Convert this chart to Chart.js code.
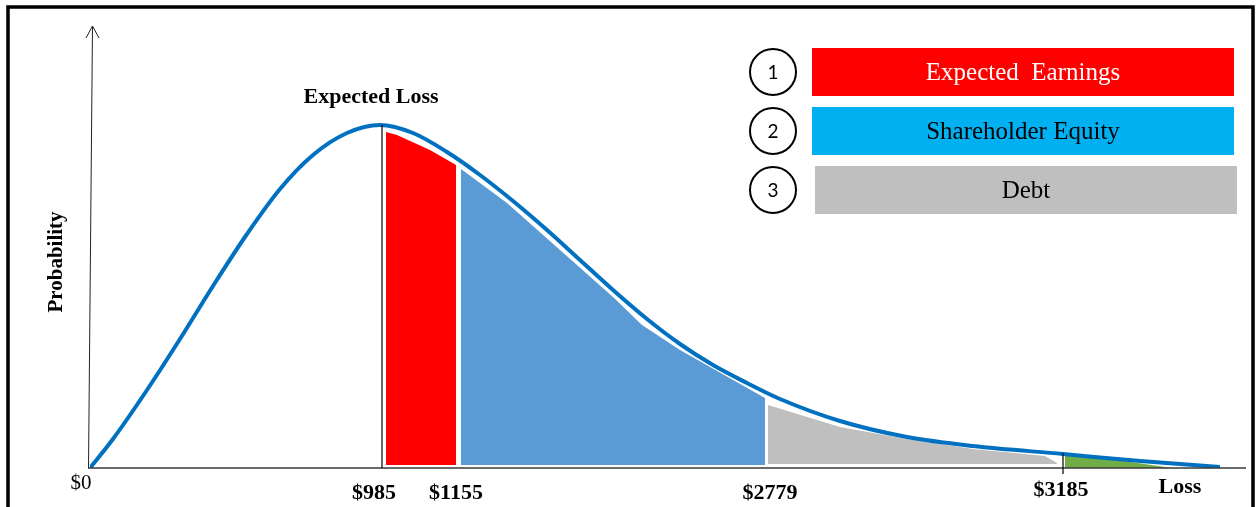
<!DOCTYPE html>
<html>
<head>
<meta charset="utf-8">
<script src="https://cdn.jsdelivr.net/npm/chart.js@4.4.1/dist/chart.umd.min.js"></script>
<style>
  html, body { margin: 0; padding: 0; background: #ffffff; }
  #wrap { width: 1259px; height: 507px; position: relative; }
</style>
</head>
<body>
<div id="wrap"><canvas id="c" width="1259" height="507"></canvas></div>
<script>
// ---- Data (schematic units) ----
const curveX = [0, 23, 57, 90, 123, 157, 190, 223, 257, 290, 323, 357, 390, 423, 457, 490, 523, 557, 590, 623, 657, 690, 750, 817, 883, 973, 1050, 1130];
const curveY = [0, 29, 78, 129, 182, 234, 279, 313, 335, 343, 335, 316, 293, 267, 238, 208, 178, 149, 124, 103, 85, 69, 47, 31, 22, 14, 7, 1];

const earningsX = [296, 307, 340, 366];
const earningsY = [336, 333, 318, 303];

const equityX = [371, 417, 470, 523, 552, 590, 675];
const equityY = [299, 265, 218, 171, 143, 118, 70];

const debtX = [678, 750, 817, 883, 955, 967];
const debtY = [63, 41, 29, 19, 12, 5];

const tailX = [975, 1020, 1082];
const tailY = [14, 9, 0];

const expectedLossX = 292;
const tickValues = [0, 292, 370, 676, 973];
const tickLabels = ['$0', '$985', '$1155', '$2779', '$3185'];
const axisTitleX = 'Loss';
const axisTitleY = 'Probability';
const peakTitle = 'Expected Loss';

const legendNumbers = ['1', '2', '3'];
const legendLabels = ['Expected  Earnings', 'Shareholder Equity', 'Debt'];
const legendFill = ['#FF0000', '#00B0F0', '#BFBFBF'];
const legendText = ['#FFFFFF', '#000000', '#000000'];

const pts = (xs, ys) => xs.map((x, i) => ({ x: x, y: ys[i] }));

const SERIF = '"Liberation Serif", "Times New Roman", serif';

const decor = {
  id: 'decor',
  beforeDraw(chart) {
    const ctx = chart.ctx;
    ctx.save();
    ctx.fillStyle = '#ffffff';
    ctx.fillRect(0, 0, chart.width, chart.height);
    ctx.restore();
  },
  afterDatasetsDraw(chart) {
    const ctx = chart.ctx;
    const xs = chart.scales.x, ys = chart.scales.y;
    const y0 = ys.getPixelForValue(0);
    const xLeft = xs.getPixelForValue(0);
    const yTop = ys.getPixelForValue(ys.max);
    ctx.save();

    // frame
    ctx.strokeStyle = '#000';
    ctx.lineWidth = 3.5;
    ctx.strokeRect(8, 7, 1245, 540);

    // x axis
    ctx.strokeStyle = '#3a3a3a';
    ctx.lineWidth = 1.5;
    ctx.beginPath();
    ctx.moveTo(xLeft - 2, y0);
    ctx.lineTo(xs.right, y0);
    ctx.stroke();

    // y axis with open arrow
    ctx.strokeStyle = '#222';
    ctx.lineWidth = 1;
    ctx.beginPath();
    ctx.moveTo(xLeft - 1.5, y0);
    ctx.lineTo(xLeft + 2.5, yTop - 1);
    ctx.stroke();
    ctx.beginPath();
    ctx.moveTo(xLeft - 4, yTop + 11);
    ctx.lineTo(xLeft + 2.5, yTop - 1);
    ctx.lineTo(xLeft + 9, yTop + 11);
    ctx.stroke();

    // expected loss vertical line
    const xe = xs.getPixelForValue(expectedLossX);
    ctx.strokeStyle = '#000';
    ctx.lineWidth = 1.2;
    ctx.beginPath();
    ctx.moveTo(xe, ys.getPixelForValue(343));
    ctx.lineTo(xe, y0);
    ctx.stroke();

    // tick mark at last boundary
    const xt = xs.getPixelForValue(tickValues[4]);
    ctx.beginPath();
    ctx.moveTo(xt, ys.getPixelForValue(15));
    ctx.lineTo(xt, y0 + 6);
    ctx.stroke();

    // tick labels
    ctx.fillStyle = '#000';
    ctx.textAlign = 'center';
    ctx.textBaseline = 'middle';
    const labelDx = [-9, -8, -4, 4, -2];
    const labelDy = [15, 25, 25, 25, 22];
    tickValues.forEach((v, i) => {
      ctx.font = (i === 0 ? '' : 'bold ') + (i === 0 ? '21px ' : '22px ') + SERIF;
      ctx.fillText(tickLabels[i], xs.getPixelForValue(v) + labelDx[i], y0 + labelDy[i]);
    });
    ctx.font = 'bold 22px ' + SERIF;
    ctx.fillText(axisTitleX, xs.getPixelForValue(1090), y0 + 19);

    // Expected Loss title
    ctx.font = 'bold 22px ' + SERIF;
    ctx.fillText(peakTitle, xe - 11, 97);

    // Probability rotated
    ctx.save();
    ctx.translate(57, 262);
    ctx.rotate(-Math.PI / 2);
    ctx.font = 'bold 21px ' + SERIF;
    ctx.fillText(axisTitleY, 0, 0);
    ctx.restore();

    // legend
    const rowY = [72, 131, 190];
    const rectX = [812, 812, 815];
    legendLabels.forEach((lab, i) => {
      const cy = rowY[i];
      ctx.fillStyle = legendFill[i];
      ctx.fillRect(rectX[i], cy - 24, 422, 48);
      ctx.fillStyle = legendText[i];
      ctx.font = '25px ' + SERIF;
      ctx.fillText(lab, rectX[i] + 211, cy + 1);
      ctx.beginPath();
      ctx.arc(773, cy, 23, 0, Math.PI * 2);
      ctx.fillStyle = '#fff';
      ctx.fill();
      ctx.strokeStyle = '#000';
      ctx.lineWidth = 2;
      ctx.stroke();
      ctx.fillStyle = '#000';
      ctx.font = '19px Lato, "Liberation Sans", sans-serif';
      ctx.fillText(legendNumbers[i], 773, cy + 1);
    });

    ctx.restore();
  }
};

const regionStyle = (color, data, fillVal) => ({
  data: data,
  backgroundColor: color,
  borderColor: 'rgba(0,0,0,0)',
  borderWidth: 0,
  pointRadius: 0,
  fill: { value: fillVal },
  tension: 0,
  order: 2
});

new Chart(document.getElementById('c'), {
  type: 'line',
  data: {
    datasets: [
      {
        data: pts(curveX, curveY),
        borderColor: '#0070C0',
        borderWidth: 4,
        pointRadius: 0,
        fill: false,
        cubicInterpolationMode: 'monotone',
        order: 0
      },
      regionStyle('#FF0000', pts(earningsX, earningsY), 3),
      regionStyle('#5B9BD5', pts(equityX, equityY), 3),
      regionStyle('#BFBFBF', pts(debtX, debtY), 4),
      regionStyle('#70AD47', pts(tailX, tailY), 0)
    ]
  },
  options: {
    responsive: false,
    animation: false,
    layout: { padding: { left: 90, right: 13, top: 27, bottom: 39 } },
    scales: {
      x: { type: 'linear', min: 0, max: 1156, display: false },
      y: { type: 'linear', min: 0, max: 441, display: false }
    },
    plugins: { legend: { display: false }, tooltip: { enabled: false } }
  },
  plugins: [decor]
});
</script>
</body>
</html>
